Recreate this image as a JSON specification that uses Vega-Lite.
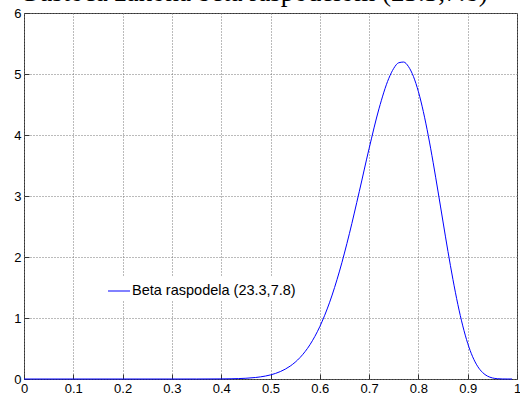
{
  "$schema": "https://vega.github.io/schema/vega-lite/v6.json",
  "width": 493,
  "height": 366,
  "autosize": {"type": "none"},
  "padding": {"left": 24, "top": 13, "right": 3, "bottom": 15},
  "background": "white",
  "title": {
    "text": "Gustoća zakona beta raspodelom (23.3,7.8)",
    "font": "Liberation Serif",
    "fontSize": 27,
    "fontWeight": "normal",
    "color": "black",
    "baseline": "alphabetic",
    "anchor": "middle",
    "offset": 8,
    "dy": 29,
    "dx": -17
  },
  "config": {
    "view": {"stroke": "#333333", "strokeWidth": 1},
    "axis": {
      "domain": false,
      "ticks": true,
      "tickSize": -5,
      "tickColor": "#333333",
      "grid": true,
      "gridColor": "#777777",
      "gridDash": [1, 2],
      "gridOpacity": 1,
      "gridWidth": 1,
      "labelFont": "Liberation Sans",
      "labelFontSize": 13,
      "labelColor": "black",
      "title": null
    }
  },
  "data": {
    "values": [
      {"x": 0, "y": 0, "s": "Beta raspodela (23.3,7.8)"},
      {"x": 0.1, "y": 0, "s": "Beta raspodela (23.3,7.8)"},
      {"x": 0.2, "y": 0, "s": "Beta raspodela (23.3,7.8)"},
      {"x": 0.3, "y": 0, "s": "Beta raspodela (23.3,7.8)"},
      {"x": 0.35, "y": 0.0001, "s": "Beta raspodela (23.3,7.8)"},
      {"x": 0.4, "y": 0.0016, "s": "Beta raspodela (23.3,7.8)"},
      {"x": 0.42, "y": 0.0038, "s": "Beta raspodela (23.3,7.8)"},
      {"x": 0.45, "y": 0.0123, "s": "Beta raspodela (23.3,7.8)"},
      {"x": 0.47, "y": 0.0251, "s": "Beta raspodela (23.3,7.8)"},
      {"x": 0.48, "y": 0.0353, "s": "Beta raspodela (23.3,7.8)"},
      {"x": 0.5, "y": 0.0671, "s": "Beta raspodela (23.3,7.8)"},
      {"x": 0.52, "y": 0.122, "s": "Beta raspodela (23.3,7.8)"},
      {"x": 0.54, "y": 0.212, "s": "Beta raspodela (23.3,7.8)"},
      {"x": 0.55, "y": 0.2748, "s": "Beta raspodela (23.3,7.8)"},
      {"x": 0.56, "y": 0.3525, "s": "Beta raspodela (23.3,7.8)"},
      {"x": 0.58, "y": 0.5619, "s": "Beta raspodela (23.3,7.8)"},
      {"x": 0.6, "y": 0.8587, "s": "Beta raspodela (23.3,7.8)"},
      {"x": 0.62, "y": 1.2588, "s": "Beta raspodela (23.3,7.8)"},
      {"x": 0.64, "y": 1.7691, "s": "Beta raspodela (23.3,7.8)"},
      {"x": 0.66, "y": 2.3822, "s": "Beta raspodela (23.3,7.8)"},
      {"x": 0.68, "y": 3.07, "s": "Beta raspodela (23.3,7.8)"},
      {"x": 0.7, "y": 3.778, "s": "Beta raspodela (23.3,7.8)"},
      {"x": 0.72, "y": 4.429, "s": "Beta raspodela (23.3,7.8)"},
      {"x": 0.74, "y": 4.929, "s": "Beta raspodela (23.3,7.8)"},
      {"x": 0.75, "y": 5.093, "s": "Beta raspodela (23.3,7.8)"},
      {"x": 0.76, "y": 5.184, "s": "Beta raspodela (23.3,7.8)"},
      {"x": 0.77, "y": 5.196, "s": "Beta raspodela (23.3,7.8)"},
      {"x": 0.78, "y": 5.12, "s": "Beta raspodela (23.3,7.8)"},
      {"x": 0.79, "y": 4.958, "s": "Beta raspodela (23.3,7.8)"},
      {"x": 0.8, "y": 4.711, "s": "Beta raspodela (23.3,7.8)"},
      {"x": 0.81, "y": 4.384, "s": "Beta raspodela (23.3,7.8)"},
      {"x": 0.82, "y": 3.991, "s": "Beta raspodela (23.3,7.8)"},
      {"x": 0.83, "y": 3.545, "s": "Beta raspodela (23.3,7.8)"},
      {"x": 0.84, "y": 3.066, "s": "Beta raspodela (23.3,7.8)"},
      {"x": 0.85, "y": 2.574, "s": "Beta raspodela (23.3,7.8)"},
      {"x": 0.86, "y": 2.09, "s": "Beta raspodela (23.3,7.8)"},
      {"x": 0.87, "y": 1.634, "s": "Beta raspodela (23.3,7.8)"},
      {"x": 0.88, "y": 1.2234, "s": "Beta raspodela (23.3,7.8)"},
      {"x": 0.89, "y": 0.871, "s": "Beta raspodela (23.3,7.8)"},
      {"x": 0.9, "y": 0.5845, "s": "Beta raspodela (23.3,7.8)"},
      {"x": 0.91, "y": 0.3652, "s": "Beta raspodela (23.3,7.8)"},
      {"x": 0.92, "y": 0.2092, "s": "Beta raspodela (23.3,7.8)"},
      {"x": 0.93, "y": 0.1074, "s": "Beta raspodela (23.3,7.8)"},
      {"x": 0.94, "y": 0.0478, "s": "Beta raspodela (23.3,7.8)"},
      {"x": 0.95, "y": 0.0175, "s": "Beta raspodela (23.3,7.8)"},
      {"x": 0.96, "y": 0.0049, "s": "Beta raspodela (23.3,7.8)"},
      {"x": 0.97, "y": 0.0009, "s": "Beta raspodela (23.3,7.8)"},
      {"x": 0.98, "y": 0.0001, "s": "Beta raspodela (23.3,7.8)"},
      {"x": 0.99, "y": 0, "s": "Beta raspodela (23.3,7.8)"}
    ]
  },
  "mark": {"type": "line", "strokeWidth": 1, "interpolate": "monotone"},
  "encoding": {
    "x": {
      "field": "x",
      "type": "quantitative",
      "scale": {"domain": [0, 1], "nice": false, "zero": false},
      "axis": {"values": [0, 0.1, 0.2, 0.3, 0.4, 0.5, 0.6, 0.7, 0.8, 0.9, 1], "format": "~g", "labelPadding": 8, "labelFlush": false, "labelOverlap": false}
    },
    "y": {
      "field": "y",
      "type": "quantitative",
      "scale": {"domain": [0, 6], "nice": false},
      "axis": {"values": [0, 1, 2, 3, 4, 5, 6], "labelPadding": 8, "labelFlush": false}
    },
    "color": {
      "field": "s",
      "type": "nominal",
      "scale": {"range": ["#0000ff"]},
      "legend": {
        "title": null,
        "orient": "none",
        "legendX": 81,
        "legendY": 264,
        "symbolType": "M-1,-0.045L1,-0.045L1,0.045L-1,0.045Z",
        "symbolSize": 484,
        "symbolStrokeWidth": 0,
        "symbolFillColor": "#0000ff",
        "labelFont": "Liberation Sans",
        "labelFontSize": 14.5,
        "labelLimit": 400,
        "labelColor": "black",
        "fillColor": "white",
        "padding": 3,
        "labelOffset": 2,
        "encode": {"symbols": {"update": {"fill": {"value": "#0000ff"}, "fillOpacity": {"value": 1}, "strokeWidth": {"value": 0}}}}
      }
    }
  }
}
